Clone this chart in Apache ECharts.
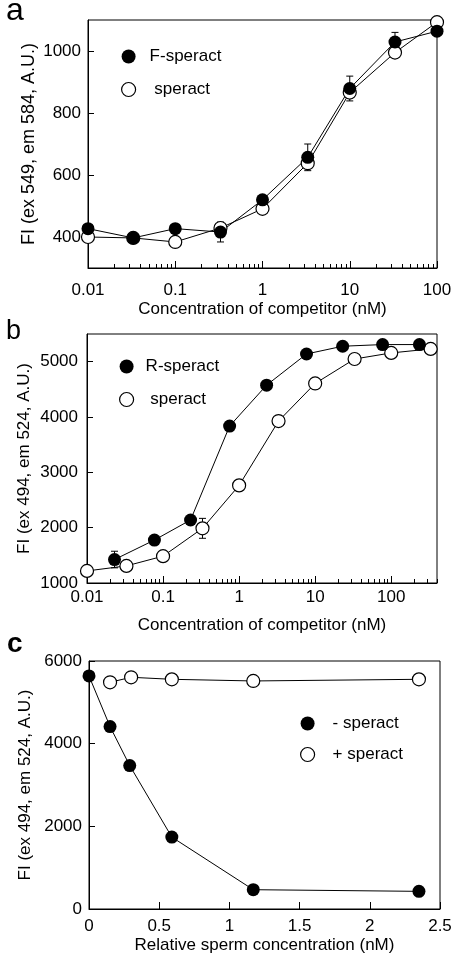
<!DOCTYPE html>
<html>
<head>
<meta charset="utf-8">
<script src="https://cdn.jsdelivr.net/npm/echarts@6.0.0/dist/echarts.min.js"></script>
<style>
html, body { margin: 0; padding: 0; background: #fff; }
#chart { width: 452px; height: 958px; }
</style>
</head>
<body>
<div id="chart"></div>
<script>
// panel a : F-speract vs speract
var concA = [0.01, 0.033, 0.1, 0.33, 1, 3.3, 10, 33, 100];
var fSperact = [427, 397, 427, 416, 520, 657, 879, 1029, 1064];
var fSperactErr = [0, 0, 0, 32, 0, 43, 40, 31, 0];
var speractA = [400, 397, 384, 429, 491, 638, 866, 995, 1093];
var yTicksA = [400, 600, 800, 1000];

// panel b : R-speract vs speract
var concR = [0.023, 0.077, 0.23, 0.75, 2.3, 7.7, 23, 77, 235];
var rSperact = [1424, 1776, 2139, 3836, 4576, 5139, 5279, 5309, 5309];
var rSperactErr = [150, 0, 0, 0, 0, 0, 0, 0, 0];
var concB = [0.01, 0.033, 0.1, 0.33, 1, 3.3, 10, 33, 100, 330];
var speractB = [1218, 1309, 1485, 1988, 2764, 3927, 4606, 5048, 5158, 5230];
var speractBErr = [0, 0, 0, 180, 0, 0, 0, 0, 0, 0];
var yTicksB = [1000, 2000, 3000, 4000, 5000];

// panel c : sperm titration
var spermMinus = [0, 0.15, 0.29, 0.59, 1.17, 2.35];
var minusSperact = [5638, 4413, 3471, 1739, 467, 427];
var spermPlus = [0.15, 0.30, 0.59, 1.17, 2.35];
var plusSperact = [5485, 5606, 5557, 5517, 5557];
var yTicksC = [0, 2000, 4000, 6000];

var logLabels = [0.01, 0.1, 1, 10, 100];

var FONT = 'Liberation Sans';
var chart = echarts.init(document.getElementById('chart'));

function pairs(xs, ys) {
  return xs.map(function (x, i) { return [x, ys[i]]; });
}
function errPairs(xs, ys, es) {
  var out = [];
  xs.forEach(function (x, i) {
    if (es[i]) out.push([x, ys[i] - es[i], ys[i] + es[i]]);
  });
  return out;
}
// 2..9 ticks in every decade
function minorTicks(lo, hi) {
  var out = [];
  for (var d = lo; d < hi; d *= 10) {
    for (var k = 2; k <= 9; k++) {
      var v = +(k * d).toPrecision(3);
      if (v <= hi) out.push(v);
    }
  }
  return out;
}
function plain(v) { return String(v); }

function errorBars(xi, yi, data) {
  return {
    type: 'custom', xAxisIndex: xi, yAxisIndex: yi, data: data, z: 3,
    encode: { x: 0, y: [1, 2] },
    renderItem: function (params, api) {
      var lo = api.coord([api.value(0), api.value(1)]);
      var hi = api.coord([api.value(0), api.value(2)]);
      var w = 3.5;
      var st = { stroke: '#000', lineWidth: 1 };
      return {
        type: 'group', children: [
          { type: 'line', shape: { x1: lo[0], y1: lo[1], x2: hi[0], y2: hi[1] }, style: st },
          { type: 'line', shape: { x1: lo[0] - w, y1: lo[1], x2: lo[0] + w, y2: lo[1] }, style: st },
          { type: 'line', shape: { x1: hi[0] - w, y1: hi[1], x2: hi[0] + w, y2: hi[1] }, style: st }
        ]
      };
    }
  };
}

var filled = { color: '#000' };
var hollow = { color: '#fff', borderColor: '#000', borderWidth: 1.2 };

function lineSeries(name, xi, yi, data, style) {
  return {
    name: name, type: 'line', xAxisIndex: xi, yAxisIndex: yi, data: data,
    symbol: 'circle', symbolSize: 13, itemStyle: style,
    lineStyle: { color: '#000', width: 1 }, z: 4, animation: false
  };
}

var txt = { fontFamily: FONT, fontSize: 17, color: '#000' };

function logMajor(grid, max, margin, nameGap) {
  return {
    type: 'log', gridIndex: grid, min: 0.01, max: max, position: 'bottom',
    name: 'Concentration of competitor (nM)', nameLocation: 'middle', nameGap: nameGap,
    nameMoveOverlap: false, nameTextStyle: txt,
    axisLine: { show: true, lineStyle: { color: '#000', width: 1 } },
    axisTick: { show: true, inside: true, length: 7, customValues: logLabels, lineStyle: { color: '#000' } },
    axisLabel: { show: true, margin: margin, customValues: logLabels, formatter: plain, fontFamily: FONT, fontSize: 17, color: '#000' },
    splitLine: { show: false }
  };
}
// second axis on the same grid, only for the short 2..9 ticks
function logMinor(grid, max) {
  return {
    type: 'log', gridIndex: grid, min: 0.01, max: max, position: 'bottom',
    axisLine: { show: false },
    axisTick: { show: true, inside: true, length: 4, customValues: minorTicks(0.01, max), lineStyle: { color: '#000', width: 1 } },
    axisLabel: { show: false },
    splitLine: { show: false }
  };
}
function yAxis(grid, min, max, ticks, margin, nameGap, fs) {
  return {
    type: 'value', gridIndex: grid, min: min, max: max,
    name: grid === 0 ? 'FI (ex 549, em 584, A.U.)' : 'FI (ex 494, em 524, A.U.)',
    nameLocation: 'middle', nameGap: nameGap, nameMoveOverlap: false,
    nameTextStyle: { fontFamily: FONT, fontSize: fs, color: '#000' },
    axisLine: { show: true, lineStyle: { color: '#000', width: 1 } },
    axisTick: { show: true, inside: true, length: 6, customValues: ticks, lineStyle: { color: '#000' } },
    axisLabel: { margin: margin, customValues: ticks, formatter: plain, fontFamily: FONT, fontSize: 17, color: '#000' },
    splitLine: { show: false }
  };
}

var gridBox = { show: true, borderColor: '#000', borderWidth: 1, backgroundColor: 'transparent', outerBoundsMode: 'none', containLabel: false };

function legend(left, top, gap, pad, items) {
  return {
    orient: 'vertical', left: left, top: top, itemGap: gap, itemWidth: 14, itemHeight: 14,
    padding: 0, selectedMode: false,
    formatter: function (name) { return name.trim() === 'speract' ? ' speract' : name; },
    textStyle: { fontFamily: FONT, fontSize: 17, color: '#000', padding: [0, 0, 0, pad] },
    data: items
  };
}

chart.setOption({
  backgroundColor: '#fff',
  animation: false,
  title: [
    { text: 'a', left: 6, top: -5, padding: 0, textStyle: { fontFamily: FONT, fontSize: 32, fontWeight: 'normal', color: '#000' } },
    { text: 'b', left: 6, top: 318, padding: 0, textStyle: { fontFamily: FONT, fontSize: 27, fontWeight: 'normal', color: '#000' } },
    { text: 'c', left: 7, top: 630, padding: 0, textStyle: { fontFamily: FONT, fontSize: 28, fontWeight: 'bold', color: '#000' } }
  ],
  legend: [
    legend(121, 48, 16, 9, [
      { name: 'F-speract', icon: 'circle', itemStyle: filled },
      { name: 'speract', icon: 'circle', itemStyle: hollow }
    ]),
    legend(119, 358, 16, 7, [
      { name: 'R-speract', icon: 'circle', itemStyle: filled },
      { name: 'speract ', icon: 'circle', itemStyle: hollow }
    ]),
    legend(300, 715, 14, 13, [
      { name: '- speract', icon: 'circle', itemStyle: filled },
      { name: '+ speract', icon: 'circle', itemStyle: hollow }
    ])
  ],
  grid: [
    Object.assign({ left: 88, top: 20, width: 349, height: 248 }, gridBox),
    Object.assign({ left: 87, top: 334, width: 350, height: 249 }, gridBox),
    Object.assign({ left: 89, top: 661, width: 351, height: 248 }, gridBox)
  ],
  xAxis: [
    logMajor(0, 100, 14, 33),
    logMinor(0, 100),
    logMajor(1, 400, 6, 34),
    logMinor(1, 400),
    {
      type: 'value', gridIndex: 2, min: 0, max: 2.5, interval: 0.5, position: 'bottom',
      name: 'Relative sperm concentration (nM)', nameLocation: 'middle', nameGap: 28,
      nameMoveOverlap: false, nameTextStyle: txt,
      axisLine: { show: true, lineStyle: { color: '#000', width: 1 } },
      axisTick: { show: true, inside: true, length: 7, lineStyle: { color: '#000' } },
      axisLabel: { margin: 9, formatter: plain, fontFamily: FONT, fontSize: 17, color: '#000', showMinLabel: true, showMaxLabel: true },
      splitLine: { show: false }
    }
  ],
  yAxis: [
    yAxis(0, 300, 1100, yTicksA, 7, 50, 18),
    yAxis(1, 1000, 5500, yTicksB, 9, 54, 17),
    yAxis(2, 0, 6000, yTicksC, 7, 55, 17)
  ],
  series: [
    lineSeries('speract', 0, 0, pairs(concA, speractA), hollow),
    lineSeries('F-speract', 0, 0, pairs(concA, fSperact), filled),
    errorBars(0, 0, errPairs(concA, fSperact, fSperactErr)),

    lineSeries('speract ', 2, 1, pairs(concB, speractB), hollow),
    lineSeries('R-speract', 2, 1, pairs(concR, rSperact), filled),
    errorBars(2, 1, errPairs(concB, speractB, speractBErr)),
    errorBars(2, 1, errPairs(concR, rSperact, rSperactErr)),

    lineSeries('+ speract', 4, 2, pairs(spermPlus, plusSperact), hollow),
    lineSeries('- speract', 4, 2, pairs(spermMinus, minusSperact), filled)
  ]
});
</script>
</body>
</html>
